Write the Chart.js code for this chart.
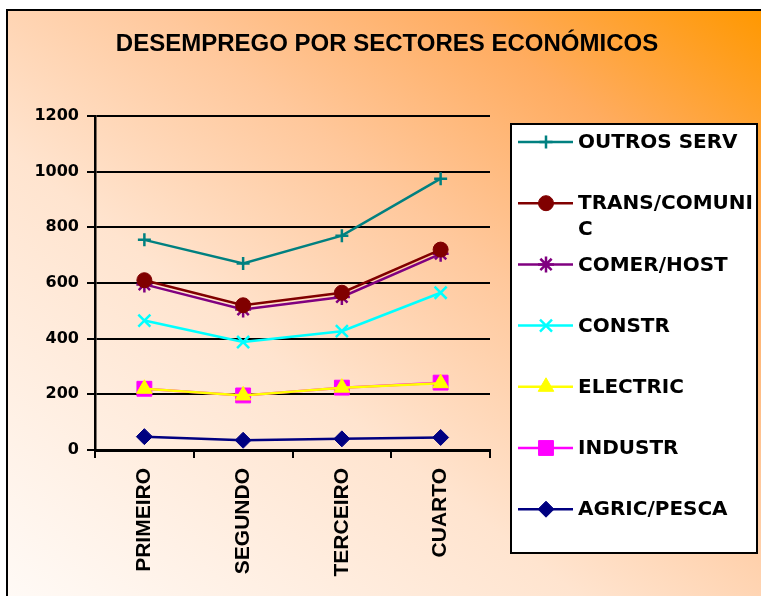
<!DOCTYPE html>
<html>
<head>
<meta charset="utf-8">
<script src="https://cdn.jsdelivr.net/npm/chart.js@4.4.1/dist/chart.umd.min.js"></script>
<style>
html,body{margin:0;padding:0;background:#fff;}
#frame{position:absolute;left:6px;top:9px;width:755px;height:587px;border-left:2px solid #000;border-top:2px solid #000;
background:linear-gradient(to top right,#FFFAF6 0%,#FFE4CF 38%,#FFC89C 60%,#FFAC60 80%,#FF9800 100%);}
#c{position:absolute;left:0;top:0;}
#title{position:absolute;left:0;top:28px;width:774px;text-align:center;font:bold 24px "Liberation Sans",Arial,sans-serif;line-height:30px;color:#000;}
</style>
</head>
<body>
<div id="frame"></div>
<canvas id="c" width="761" height="596"></canvas>
<div id="title"></div>
<script>
const titleText = 'DESEMPREGO POR SECTORES ECONÓMICOS';
const categories = ['PRIMEIRO', 'SEGUNDO', 'TERCEIRO', 'CUARTO'];
const seriesNames = ['OUTROS SERV', 'TRANS/COMUNIC', 'COMER/HOST', 'CONSTR', 'ELECTRIC', 'INDUSTR', 'AGRIC/PESCA'];
const outrosServ = [755, 670, 770, 975];
const transComunic = [610, 520, 565, 720];
const comerHost = [595, 505, 550, 705];
const constr = [465, 388, 427, 565];
const electric = [220, 196, 224, 240];
const industr = [220, 196, 224, 242];
const agricPesca = [48, 35, 40, 45];
const yTicks = [0, 200, 400, 600, 800, 1000, 1200];

document.getElementById('title').textContent = titleText;

const seriesValues = [outrosServ, transComunic, comerHost, constr, electric, industr, agricPesca];
const seriesColors = ['#008080', '#800000', '#800080', '#00FFFF', '#FFFF00', '#FF00FF', '#000080'];
const seriesStyles = ['cross', 'circle', 'star', 'crossRot', 'triangle', 'rect', 'rectRot'];
const seriesRadius = [6.5, 7.5, 8, 8.5, 9, 10.5, 8];

const datasets = seriesNames.map((n, i) => ({
  label: n,
  data: seriesValues[i],
  borderColor: seriesColors[i],
  backgroundColor: seriesColors[i],
  pointBackgroundColor: seriesColors[i],
  pointBorderColor: seriesColors[i],
  pointStyle: seriesStyles[i],
  pointRadius: seriesRadius[i],
  pointBorderWidth: ['cross','crossRot','star'].includes(seriesStyles[i]) ? 2.5 : 1,
  borderWidth: 2.5,
  tension: 0,
  fill: false
}));

const legendPlugin = {
  id: 'boxLegend',
  afterDraw(chart) {
    const ctx = chart.ctx;
    const bx = 511, by = 124, bw = 246, bh = 429;
    ctx.save();
    ctx.fillStyle = '#fff';
    ctx.fillRect(bx, by, bw, bh);
    ctx.strokeStyle = '#000';
    ctx.lineWidth = 2;
    ctx.strokeRect(bx, by, bw, bh);
    ctx.font = 'bold 20px "DejaVu Sans"';
    ctx.textBaseline = 'middle';
    ctx.textAlign = 'left';
    const textX = 578, maxW = 178;
    chart.data.datasets.forEach((ds, i) => {
      const y = 142 + i * 61.2;
      ctx.strokeStyle = ds.borderColor;
      ctx.fillStyle = ds.borderColor;
      ctx.lineWidth = 2.5;
      ctx.beginPath();
      ctx.moveTo(518, y);
      ctx.lineTo(573, y);
      ctx.stroke();
      ctx.lineWidth = ds.pointBorderWidth;
      Chart.helpers.drawPoint(ctx, {pointStyle: ds.pointStyle, radius: ds.pointRadius, rotation: 0, borderWidth: ds.pointBorderWidth}, 546, y);
      const lines = [];
      let cur = '';
      for (const ch of ds.label) {
        if (ctx.measureText(cur + ch).width > maxW && cur) { lines.push(cur); cur = ch; }
        else cur += ch;
      }
      lines.push(cur);
      ctx.fillStyle = '#000';
      lines.forEach((l, k) => ctx.fillText(l, textX, y + 1 + k * 26));
    });
    ctx.restore();
  }
};

new Chart(document.getElementById('c'), {
  type: 'line',
  data: {labels: categories, datasets},
  plugins: [legendPlugin],
  options: {
    responsive: false,
    animation: false,
    devicePixelRatio: 1,
    layout: {padding: {left: 0, right: 271, top: 116, bottom: 0}},
    plugins: {
      legend: {display: false},
      tooltip: {enabled: false},
      title: {display: false}
    },
    scales: {
      x: {
        offset: true,
        grid: {offset: true, drawOnChartArea: false, drawTicks: true, tickLength: 8, color: '#000', lineWidth: 2},
        border: {color: '#000', width: 3},
        ticks: {minRotation: 90, maxRotation: 90, padding: 10, color: '#000',
          font: {family: '"Liberation Sans"', weight: 'bold', size: 21}},
        afterFit(s) { s.height = 596 - 450; }
      },
      y: {
        min: 0, max: 1200,
        afterBuildTicks(s) { s.ticks = yTicks.map(v => ({value: v})); },
        grid: {color: '#000', lineWidth: 2, tickLength: 8},
        border: {color: '#000', width: 2.5},
        ticks: {padding: 8, color: '#000', font: {family: '"DejaVu Sans"', weight: 'bold', size: 16},
          callback: v => String(v)},
        afterFit(s) { s.width = 95; }
      }
    }
  }
});
</script>
</body>
</html>
